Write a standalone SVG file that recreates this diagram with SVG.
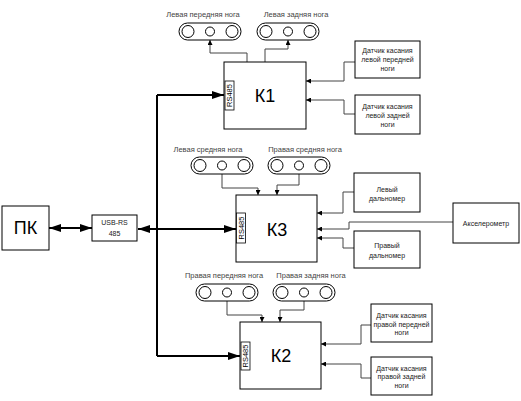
<svg xmlns="http://www.w3.org/2000/svg" width="521" height="401" viewBox="0 0 521 401">
<defs>
<style>
.box{fill:#fff;stroke:#000;stroke-width:1}
.rs{fill:#fff;stroke:#000;stroke-width:0.8}
.big{font-family:"Liberation Sans",Arial,sans-serif;font-size:18px;fill:#000;text-anchor:middle}
.sm{font-family:"Liberation Sans",Arial,sans-serif;font-size:7px;fill:#222;text-anchor:middle}
.lbl{font-family:"Liberation Sans",Arial,sans-serif;font-size:7.5px;fill:#444;text-anchor:middle}
.rst{font-family:"Liberation Sans",Arial,sans-serif;font-size:7.5px;fill:#000;text-anchor:middle}
.pill{fill:#fff;stroke:#000;stroke-width:1}
.c{fill:none;stroke:#444;stroke-width:1}
.bus{fill:none;stroke:#000;stroke-width:2}
</style>
<marker id="a" viewBox="0 0 6 6" refX="6" refY="3" markerWidth="5" markerHeight="5" markerUnits="userSpaceOnUse" orient="auto"><path d="M0,0 L6,3 L0,6 z" fill="#000"/></marker>
<marker id="A" viewBox="0 0 12 8" refX="12" refY="4" markerWidth="12" markerHeight="8" markerUnits="userSpaceOnUse" orient="auto-start-reverse"><path d="M0,0 L12,4 L0,8 z" fill="#000"/></marker>
<g id="pillShape">
<rect x="0" y="0" width="62" height="17" rx="8.5" class="pill"/>
<circle cx="9" cy="8.5" r="6" class="pill"/>
<circle cx="31" cy="8.5" r="4.5" class="pill"/>
<circle cx="53" cy="8.5" r="6" class="pill"/>
</g>
</defs>
<rect width="521" height="401" fill="#fff"/>

<g id="connectors">
<path class="bus" d="M49,228 H92" marker-start="url(#A)" marker-end="url(#A)"/>
<path class="bus" d="M157,95 V356"/>
<path class="bus" d="M157,229 H138" marker-end="url(#A)"/>
<path class="bus" d="M157,229 H236" marker-end="url(#A)"/>
<path class="bus" d="M157,95 H224" marker-end="url(#A)"/>
<path class="bus" d="M157,356 H240" marker-end="url(#A)"/>
<path class="c" d="M247,62 V53 H210 V40" marker-end="url(#a)"/>
<path class="c" d="M265,62 V49 H288 V40" marker-end="url(#a)"/>
<path class="c" d="M355,62 H344 V81 H306" marker-end="url(#a)"/>
<path class="c" d="M355,114 H344 V100 H306" marker-end="url(#a)"/>
<path class="c" d="M222,174 V188 H258 V195" marker-end="url(#a)"/>
<path class="c" d="M299,174 V185 H277 V195" marker-end="url(#a)"/>
<path class="c" d="M354,192 H343 V213 H317" marker-end="url(#a)"/>
<path class="c" d="M453,222 H349 V229 H317" marker-end="url(#a)"/>
<path class="c" d="M354,248 H343 V238 H317" marker-end="url(#a)"/>
<path class="c" d="M227,301 V315 H262 V322" marker-end="url(#a)"/>
<path class="c" d="M304,301 V310 H280 V322" marker-end="url(#a)"/>
<path class="c" d="M371,325 H361 V344 H321" marker-end="url(#a)"/>
<path class="c" d="M371,378 H361 V364 H321" marker-end="url(#a)"/>
</g>

<g id="pc"><rect class="box" x="2" y="206" width="47" height="44"/><text class="big" x="25.5" y="234" font-size="16">ПК</text></g>
<g id="usb"><rect class="box" x="92" y="215" width="45" height="26"/><text class="sm" x="114.5" y="225">USB-RS</text><text class="sm" x="114.5" y="236">485</text></g>

<g id="k1"><rect class="box" x="224" y="62" width="82" height="67"/><text class="big" x="265" y="102">К1</text>
<rect class="rs" x="225" y="81" width="9" height="29"/><text class="rst" transform="translate(232.3,95.5) rotate(-90)">RS485</text></g>
<g id="k3"><rect class="box" x="236" y="195" width="81" height="67"/><text class="big" x="277" y="236">К3</text>
<rect class="rs" x="236.5" y="213" width="9" height="30"/><text class="rst" transform="translate(243.8,228) rotate(-90)">RS485</text></g>
<g id="k2"><rect class="box" x="240" y="322" width="81" height="67"/><text class="big" x="281" y="362">К2</text>
<rect class="rs" x="241" y="342" width="9" height="28"/><text class="rst" transform="translate(248.3,356) rotate(-90)">RS485</text></g>

<g id="leg-lf"><text class="lbl" x="203" y="16.5">Левая передняя нога</text><use href="#pillShape" x="179" y="23"/></g>
<g id="leg-lr"><text class="lbl" x="296" y="16.5">Левая задняя нога</text><use href="#pillShape" x="257" y="23"/></g>
<g id="leg-lm"><text class="lbl" x="208" y="151.5">Левая средняя нога</text><use href="#pillShape" x="191" y="157"/></g>
<g id="leg-rm"><text class="lbl" x="305" y="151.5">Правая средняя нога</text><use href="#pillShape" x="268" y="157"/></g>
<g id="leg-rf"><text class="lbl" x="224" y="277.5">Правая передняя нога</text><use href="#pillShape" x="196" y="284"/></g>
<g id="leg-rr"><text class="lbl" x="311" y="277.5">Правая задняя нога</text><use href="#pillShape" x="273" y="284"/></g>

<g id="s-lf"><rect class="box" x="355" y="41" width="65" height="37"/><text class="sm" x="387.5" y="53">Датчик касания</text><text class="sm" x="387.5" y="62">левой передней</text><text class="sm" x="387.5" y="71">ноги</text></g>
<g id="s-lr"><rect class="box" x="355" y="95" width="65" height="39"/><text class="sm" x="387.5" y="109">Датчик касания</text><text class="sm" x="387.5" y="118">левой задней</text><text class="sm" x="387.5" y="127">ноги</text></g>
<g id="range-l"><rect class="box" x="354" y="173" width="66" height="39"/><text class="sm" x="387" y="191.5">Левый</text><text class="sm" x="387" y="200.5">дальномер</text></g>
<g id="range-r"><rect class="box" x="354" y="231" width="66" height="37"/><text class="sm" x="387" y="248">Правый</text><text class="sm" x="387" y="257.5">дальномер</text></g>
<g id="accel"><rect class="box" x="453" y="203" width="66" height="40"/><text class="sm" x="486" y="225.5">Акселерометр</text></g>
<g id="s-rf"><rect class="box" x="371" y="304" width="61" height="38"/><text class="sm" x="401.5" y="318">Датчик касания</text><text class="sm" x="401.5" y="326.5">правой передней</text><text class="sm" x="401.5" y="335">ноги</text></g>
<g id="s-rr"><rect class="box" x="371" y="357" width="61" height="38"/><text class="sm" x="401.5" y="371">Датчик касания</text><text class="sm" x="401.5" y="379">правой задней</text><text class="sm" x="401.5" y="387.5">ноги</text></g>
</svg>
